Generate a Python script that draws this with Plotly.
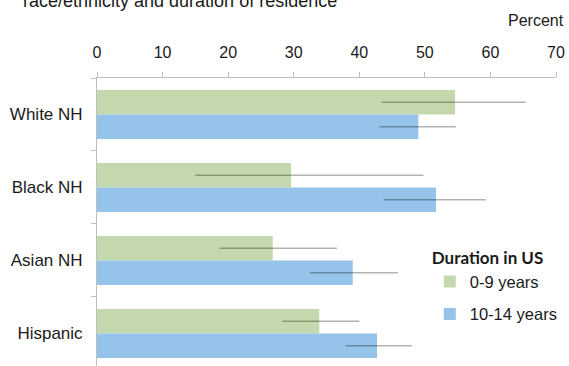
import plotly.graph_objects as go

categories = ["White NH", "Black NH", "Asian NH", "Hispanic"]
series_names = ["0-9 years", "10-14 years"]
values_0_9 = [54.6, 29.6, 26.8, 33.9]
err_plus_0_9 = [10.8, 20.2, 9.8, 6.1]
err_minus_0_9 = [11.2, 14.6, 8.1, 5.6]
values_10_14 = [49.0, 51.7, 39.0, 42.7]
err_plus_10_14 = [5.7, 7.6, 6.9, 5.3]
err_minus_10_14 = [5.9, 8.0, 6.5, 4.8]
x_ticks = [0, 10, 20, 30, 40, 50, 60, 70]

green = "#c4d8ae"
blue = "#96c3e9"
err_col = "rgba(0,0,0,0.3)"
font = "Liberation Sans, Arial, sans-serif"

fig = go.Figure()
fig.add_trace(go.Bar(
    y=categories, x=values_0_9, orientation="h", name=series_names[0],
    legendgroup="a",
    marker=dict(color=green, line=dict(width=0)),
    error_x=dict(type="data", symmetric=False, array=err_plus_0_9,
                 arrayminus=err_minus_0_9, color=err_col, thickness=1.5, width=0),
))
fig.add_trace(go.Bar(
    y=categories, x=values_10_14, orientation="h", name=series_names[1],
    legendgroup="b",
    marker=dict(color=blue, line=dict(width=0)),
    error_x=dict(type="data", symmetric=False, array=err_plus_10_14,
                 arrayminus=err_minus_10_14, color=err_col, thickness=1.5, width=0),
))

fig.update_layout(
    width=569, height=366,
    margin=dict(l=97, r=13, t=78, b=0),
    plot_bgcolor="white", paper_bgcolor="white",
    barmode="group", bargap=0.33, bargroupgap=0,
    font=dict(family=font, size=16, color="#1a1a1a"),
    xaxis=dict(
        side="top", range=[0, 70], tickvals=x_ticks,
        ticks="outside", ticklen=5, tickcolor="#bfbfbf", tickwidth=1,
        showline=True, linecolor="#bfbfbf", linewidth=1,
        showgrid=False, zeroline=False,
        tickfont=dict(size=16), ticklabelstandoff=8,
    ),
    yaxis=dict(
        type="category", categoryorder="array", categoryarray=categories,
        range=[3.446, -0.5], tickson="boundaries",
        ticks="outside", ticklen=5, tickcolor="#bfbfbf", tickwidth=1,
        showline=True, linecolor="#bfbfbf", linewidth=1,
        showgrid=False, zeroline=False,
        tickfont=dict(size=17), ticklabelstandoff=10,
    ),
    legend=dict(
        x=0.725, y=0.43, xanchor="left", yanchor="top",
        title=dict(text="<b>Duration in US</b>", font=dict(family="Lato, sans-serif", size=17)),
        font=dict(size=16.5), itemwidth=30, tracegroupgap=8,
        traceorder="grouped",
        bgcolor="rgba(0,0,0,0)",
    ),
    showlegend=True,
    annotations=[
        dict(text="race/ethnicity and duration of residence", xref="paper", yref="paper",
             x=-0.165, y=1, xanchor="left", yanchor="bottom", yshift=65,
             showarrow=False, font=dict(size=18)),
        dict(text="Percent", xref="paper", yref="paper",
             x=1.022, y=1, xanchor="right", yanchor="middle", yshift=58,
             showarrow=False, font=dict(size=16)),
    ],
)

fig.write_html(
    "out.html",
    config={"displayModeBar": False},
    post_script="document.body.style.margin='0';document.body.style.overflow='hidden';",
)
